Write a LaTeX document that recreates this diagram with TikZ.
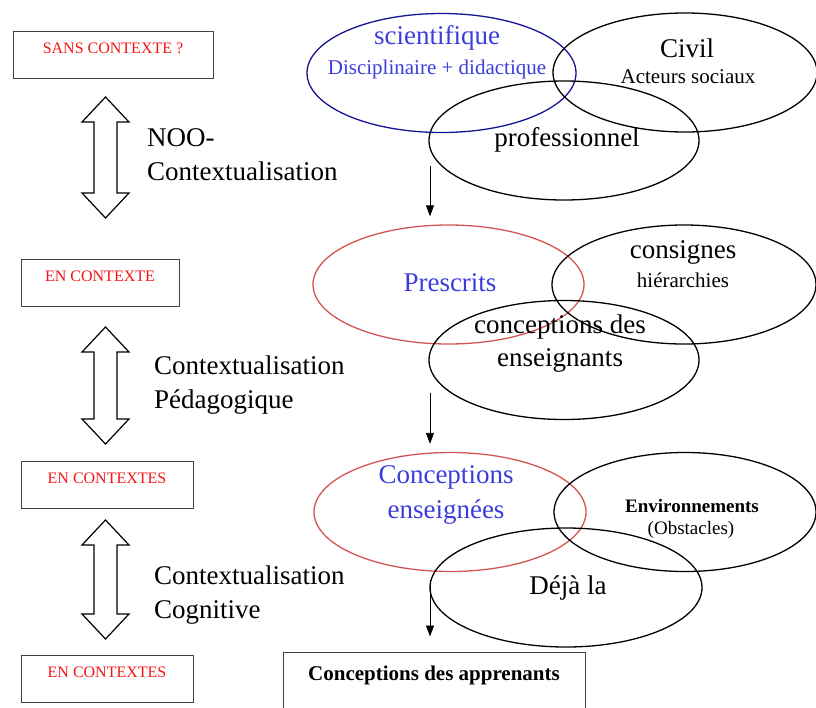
\documentclass[tikz,border=0pt]{standalone}
\usepackage{fontspec}
\setmainfont{Liberation Serif}
\usepackage{tikz}
\usetikzlibrary{shapes.geometric,arrows.meta,positioning}

\definecolor{navyline}{RGB}{20,20,150}
\definecolor{bluetext}{RGB}{60,60,220}
\definecolor{redline}{RGB}{212,84,84}
\definecolor{redtext}{RGB}{245,20,20}

\begin{document}
\begin{tikzpicture}[x=1pt, y=-1pt,
    big/.style={font=\fontsize{27}{34}\selectfont, inner sep=0pt, align=center},
    small/.style={font=\fontsize{21}{25}\selectfont, inner sep=0pt},
    ctxbox/.style={draw=black!75, line width=1pt, text=redtext,
                   font=\fontsize{16}{19}\selectfont, inner sep=0pt,
                   text height=22pt, text depth=25pt},
    zone/.style={ellipse, draw, line width=1.3pt, inner sep=0pt,
                 minimum height=119pt},
    flow/.style={-{Triangle[length=11pt,width=8pt]}, line width=0.8pt},
    dblarrow/.style={draw, line width=1.2pt, line join=miter},
  ]
  \useasboundingbox (0,0) rectangle (816,707);

  % left column: contexts
  \node[ctxbox, minimum width=200pt] (c0) at (113,54.5)  {SANS CONTEXTE ?};
  \node[ctxbox, minimum width=158pt] (c1) at (100,282.5) {EN CONTEXTE};
  \node[ctxbox, minimum width=172pt] (c2) at (107,484.5) {EN CONTEXTES};
  \node[ctxbox, minimum width=172pt] (c3) at (107,678.5) {EN CONTEXTES};

  % double arrows between the contexts
  \foreach \top/\bot in {97/218, 327/444, 520/639}
    \draw[dblarrow] (105.5,\top) -- (129,\top+25) -- (117,\top+25)
      -- (117,\bot-25) -- (129,\bot-25) -- (105.5,\bot) -- (82,\bot-25)
      -- (94,\bot-25) -- (94,\top+25) -- (82,\top+25) -- cycle;

  \node[big, anchor=west, align=left] (t0) at (147,155)   {NOO-\\Contextualisation};
  \node[big, anchor=west, align=left] (t1) at (154,385)   {Contextualisation\\Pédagogique};
  \node[big, anchor=west, align=left] (t2) at (154,595.5) {Contextualisation\\Cognitive};

  % top row: savoirs
  \node[zone, draw=navyline, minimum width=269pt] (sci)  at (441.5,73) {};
  \node[zone, minimum width=264pt]                (civ)  at (685,72.5) {};
  \node[zone, minimum width=270pt]                (prof) at (564,140.5) {};
  \node[big, text=bluetext] (sciA) at (437,38) {scientifique};
  \node[small, text=bluetext] (sciB) at (437,69) {Disciplinaire + didactique};
  \node[big] (civA) at (687,48) {Civil};
  \node[small] (civB) at (688,77) {Acteurs sociaux};
  \node[big] (profA) at (567,140) {professionnel};

  % middle row
  \node[zone, draw=redline, minimum width=271pt] (presc) at (448.5,284.5) {};
  \node[zone, minimum width=264pt]               (consg) at (684,284.5) {};
  \node[zone, minimum width=270pt]               (cens)  at (564,360) {};
  \node[big, text=bluetext] (prescA) at (450,283) {Prescrits};
  \node[big] (consgA) at (683,252) {consignes};
  \node[small] (consgB) at (683,280) {hiérarchies};
  \node[big, font=\fontsize{27}{33}\selectfont] (censA) at (560,343.5) {conceptions des\\enseignants};

  % bottom row
  \node[zone, draw=redline, minimum width=272pt] (ensg) at (450,512) {};
  \node[zone, minimum width=262pt]               (env)  at (685,512) {};
  \node[zone, minimum width=272pt]               (deja) at (566,587.5) {};
  \node[big, text=bluetext, font=\fontsize{27}{35}\selectfont] (ensgA) at (446,494.5) {Conceptions\\enseignées};
  \node[inner sep=0pt, font=\fontsize{19}{22}\bfseries] (envA) at (692,506) {Environnements};
  \node[inner sep=0pt, font=\fontsize{19}{22}\selectfont] (envB) at (691,530) {(Obstacles)};
  \node[big] (dejaA) at (568,588) {Déjà la};

  % result
  \node[draw=black!75, line width=1pt, inner sep=0pt, minimum width=302pt,
        text height=28pt, text depth=30pt, font=\fontsize{21}{25}\bfseries]
        (appr) at (434,681) {Conceptions des apprenants};

  % transitions
  \coordinate (a0) at (430,166);
  \coordinate (a1) at (430,393);
  \coordinate (a2) at (430,580);
  \draw[flow, shorten >=8pt] (a0) -- (a0 |- presc.north);
  \draw[flow, shorten >=8pt] (a1) -- (a1 |- ensg.north);
  \draw[flow, shorten >=15pt] (a2) -- (a2 |- appr.north);
\end{tikzpicture}
\end{document}
